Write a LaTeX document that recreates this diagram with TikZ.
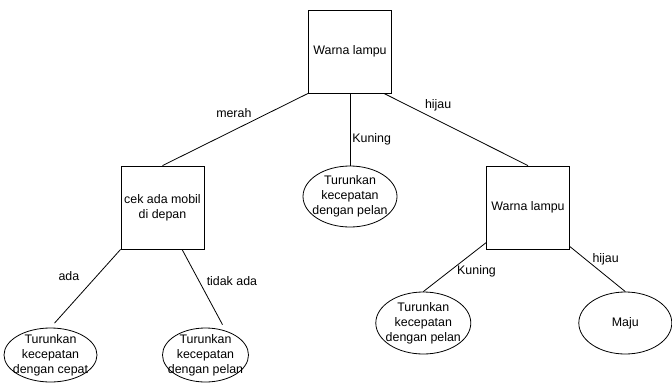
\documentclass[tikz,border=0pt]{standalone}
\usepackage{fontspec}
\setmainfont{Liberation Sans}
\usetikzlibrary{shapes.geometric}
\begin{document}
\begin{tikzpicture}[x=1pt,y=-1pt,line width=0.8pt]
  \tikzstyle{every node}=[font=\fontsize{12.4}{15}\selectfont]
  \tikzstyle{kotak}=[rectangle,draw,minimum size=83pt,inner sep=2pt,align=center]
  \tikzstyle{hasil}=[ellipse,draw,inner sep=0pt]
  \tikzstyle{isi}=[align=center,inner sep=0pt]
  \tikzstyle{ket}=[inner sep=0pt]
  \useasboundingbox (0,0) rectangle (672,383);
  \node[kotak] (lampu) at (350,51.5) {Warna lampu};
  \node[kotak] (mobil) at (162.5,207.5) {cek ada mobil\\di depan};
  \node[kotak] (lampu2) at (528,207.5) {Warna lampu};
  \node[hasil,minimum width=94pt,minimum height=61pt,
        label={[isi]center:Turunkan\\kecepatan\\dengan pelan}] (pelan) at (350,196.5) {};
  \node[hasil,minimum width=93pt,minimum height=54pt,
        label={[isi]center:Turunkan\\kecepatan\\dengan cepat}] (cepat) at (50.5,355) {};
  \node[hasil,minimum width=86pt,minimum height=54pt,
        label={[isi]center:Turunkan\\kecepatan\\dengan pelan}] (pelan2) at (205.5,355) {};
  \node[hasil,minimum width=95pt,minimum height=62pt,
        label={[isi]center:Turunkan\\kecepatan\\dengan pelan}] (pelan3) at (423.3,323) {};
  \node[hasil,minimum width=93pt,minimum height=62pt] (maju) at (625.3,323) {Maju};
  \draw (lampu.south west) -- node[ket,pos=0.51,above=12pt] {merah} (mobil.north);
  \draw (lampu.south) -- node[ket,pos=0.63,right=2pt] {Kuning} (pelan.north);
  \draw (lampu.-51.5) -- node[ket,pos=0.376,above=9.5pt] {hijau} (lampu2.north);
  \draw[shorten >=6pt] (mobil.south west) -- node[ket,pos=0.342,left=17pt] {ada} (cepat.north);
  \draw[shorten >=7pt] (mobil.-65) -- node[ket,pos=0.384,right=7.5pt] {tidak ada} (pelan2.50);
  \draw (lampu2.220) -- node[ket,pos=0.578,right=7pt] {Kuning} (pelan3.north);
  \draw (lampu2.-43) -- node[ket,pos=0.284,right=6.5pt] {hijau} (maju.north);
\end{tikzpicture}
\end{document}
